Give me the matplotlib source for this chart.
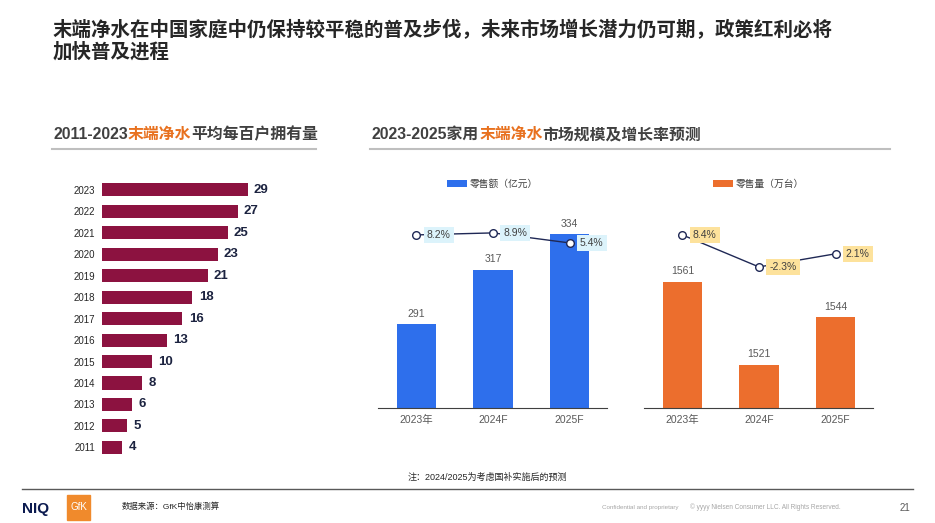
import matplotlib.pyplot as plt
from matplotlib.patches import Rectangle
from matplotlib.lines import Line2D

plt.rcParams['font.family'] = ['Liberation Sans', 'Noto Sans CJK SC', 'DejaVu Sans']

# Data
years = ['2011', '2012', '2013', '2014', '2015', '2016', '2017',
         '2018', '2019', '2020', '2021', '2022', '2023']
per_hundred = [4, 5, 6, 8, 10, 13, 16, 18, 21, 23, 25, 27, 29]

periods = ['2023年', '2024F', '2025F']
sales_value = [291, 317, 334]
value_growth = [8.2, 8.9, 5.4]
sales_volume = [1561, 1521, 1544]
volume_growth = [8.4, -2.3, 2.1]

GRAY = '#595959'
ORANGE_TXT = '#e8711f'

W, H = 935, 523
fig = plt.figure(figsize=(W / 100, H / 100), dpi=100)
bg = fig.add_axes([0, 0, 1, 1])
bg.axis('off')


def box(x0, y0, x1, y1):
    # pixel box (top-left origin) -> figure fraction rect
    return [x0 / W, 1 - y1 / H, (x1 - x0) / W, (y1 - y0) / H]


def ftext(x, y, s, **kw):
    return fig.text(x / W, 1 - y / H, s, **kw)


def hline(x0, x1, y, **kw):
    fig.add_artist(Line2D([x0 / W, x1 / W], [1 - y / H, 1 - y / H], **kw))


def multicolor(x, y, parts, **kw):
    prev = ftext(x, y, parts[0][0], color=parts[0][1], va='bottom', **kw)
    for s, c in parts[1:]:
        prev = bg.annotate(s, xy=(1, 0), xycoords=prev, color=c,
                           va='bottom', ha='left', **kw)


# Title
ftext(53, 30, '末端净水在中国家庭中仍保持较平稳的普及步伐，未来市场增长潜力仍可期，政策红利必将',
      fontsize=14, fontweight='bold', color='#262626', va='center')
ftext(53, 52, '加快普及进程', fontsize=14, fontweight='bold', color='#262626', va='center')

# Section headers
sub_kw = dict(fontsize=11.4, fontweight='bold')
multicolor(53, 142, [('2011-2023', '#404040'), ('末端净水', ORANGE_TXT),
                     ('平均每百户拥有量', '#404040')], **sub_kw)
multicolor(372, 142, [('2023-2025家用', '#404040'), ('末端净水', ORANGE_TXT),
                      ('市场规模及增长率预测', '#404040')], **sub_kw)
hline(52, 316, 149, color='#bfbfbf', lw=1.5)
hline(370, 890, 149, color='#bfbfbf', lw=1.5)

# Left: ownership per hundred households
ax1 = fig.add_axes(box(102, 180, 303, 456))
ypos = range(len(years))
ax1.barh(ypos, per_hundred, height=0.61, color='#8c1240')
ax1.set_yticks(list(ypos), years)
ax1.set_xlim(0, 40)
ax1.set_ylim(-0.40, 12.46)
ax1.set_xticks([])
ax1.tick_params(axis='y', length=0, pad=5, labelsize=7, labelcolor='#262626')
for s in ax1.spines.values():
    s.set_visible(False)
for i, v in enumerate(per_hundred):
    ax1.annotate(str(v), (v, i), xytext=(4.5, 0), textcoords='offset points',
                 va='center', ha='left', fontsize=9.5, fontweight='bold', color='#1c2340')


def bar_line(rect, values, growth, color, label, tag_color, ylim, glim):
    ax = fig.add_axes(rect)
    x = list(range(len(periods)))
    ax.bar(x, values, width=0.51, color=color, label=label)
    ax.set_xlim(-0.503, 2.49)
    ax.set_ylim(*ylim)
    ax.set_xticks(x, periods)
    ax.set_yticks([])
    for s in ['top', 'right', 'left']:
        ax.spines[s].set_visible(False)
    ax.spines['bottom'].set_color('#404040')
    ax.tick_params(axis='x', length=0, pad=5, labelsize=7.5, labelcolor=GRAY)
    for xi, v in zip(x, values):
        ax.annotate(str(v), (xi, v), xytext=(0, 4), textcoords='offset points',
                    ha='center', va='bottom', fontsize=7.5, color=GRAY)
    ax.legend(loc='center', bbox_to_anchor=(0.5, 1.077), frameon=False,
              fontsize=7, handlelength=2.0, handleheight=0.8, handletextpad=0.3,
              labelcolor='#404040')
    tw = ax.twinx()
    tw.plot(x, growth, color='#1f2855', lw=1, marker='o', ms=5.5,
            mfc='white', mec='#1f2855', mew=1)
    tw.set_ylim(*glim)
    tw.axis('off')
    for xi, g in zip(x, growth):
        tw.annotate(f'{g}%', (xi, g), xytext=(7.5, 0), textcoords='offset points',
                    ha='left', va='center', fontsize=7.5, color='#404040',
                    bbox=dict(boxstyle='square,pad=0.3', fc=tag_color, ec='none'))


bar_line(box(378, 200, 607, 408), sales_value, value_growth, '#2e6fec',
         '零售额（亿元）', '#dcf3fb', (251, 350.4), (-52.3, 20.4))
bar_line(box(644, 200, 873, 408), sales_volume, volume_growth, '#ec6e2d',
         '零售量（万台）', '#fde29c', (1500.3, 1600.5), (-49.5, 20.1))

# Note
ftext(487, 477, '注：2024/2025为考虑国补实施后的预测', fontsize=6.5, color='#262626',
      ha='center', va='center')

# Footer
hline(22, 913, 489, color='#595959', lw=1)
ftext(22, 509, 'NIQ', fontsize=11, fontweight='bold', color='#0b1a4f', va='center')
fig.add_artist(Rectangle((67 / W, 1 - 520 / H), 23 / W, 25 / H,
                         transform=fig.transFigure, color='#f08a2c'))
ftext(78.5, 507, 'GfK', fontsize=7, color='white', ha='center', va='center')
ftext(122, 507, '数据来源：GfK中怡康测算', fontsize=6, color='#262626', va='center')
ftext(602, 507, 'Confidential and proprietary', fontsize=4.5, color='#a6a6a6', va='center')
ftext(690, 507, '© yyyy Nielsen Consumer LLC. All Rights Reserved.', fontsize=4.7,
      color='#a6a6a6', va='center')
ftext(905, 508, '21', fontsize=7, color=GRAY, ha='center', va='center')

fig.savefig('out.png', dpi=100)
